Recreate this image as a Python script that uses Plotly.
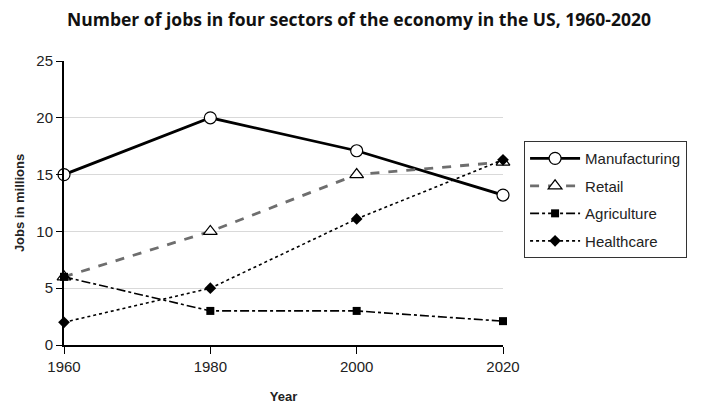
import plotly.graph_objects as go

years = [1960, 1980, 2000, 2020]
manufacturing = [15, 20, 17.1, 13.2]
retail = [6, 10, 15, 16.1]
agriculture = [6, 3, 3, 2.1]
healthcare = [2, 5, 11.1, 16.3]

fig = go.Figure()

series = [
    ("Manufacturing", manufacturing, dict(color="black", width=2.8, dash="solid"),
     dict(symbol="circle", size=12, color="white", line=dict(color="black", width=1.2))),
    ("Retail", retail, dict(color="#6e6e6e", width=2.8, dash="dash"),
     dict(symbol="triangle-up", size=12, color="white", line=dict(color="black", width=1.2))),
    ("Agriculture", agriculture, dict(color="black", width=1.6, dash="dashdot"),
     dict(symbol="square", size=8, color="black")),
    ("Healthcare", healthcare, dict(color="black", width=1.6, dash="dot"),
     dict(symbol="diamond", size=9, color="black")),
]

for name, vals, line, marker in series:
    fig.add_trace(go.Scatter(x=years, y=vals, mode="lines+markers", name=name,
                             legendgroup=name, line=line, marker=marker,
                             cliponaxis=False))

# page body has an 8px margin, so the figure is a bit smaller than the window
fig.update_layout(
    width=702, height=406,
    plot_bgcolor="white", paper_bgcolor="white",
    font=dict(family="Liberation Sans, Arial", size=15, color="#222"),
    title=dict(text="<b>Number of jobs in four sectors of the economy in the US, 1960-2020</b>",
               font=dict(family="Open Sans", size=17.5, color="#111"),
               x=0.5, xanchor="center", y=0.97, yanchor="middle"),
    margin=dict(l=56, r=207, t=53, b=69),
    legend=dict(x=1.048, y=0.718, xanchor="left", yanchor="top",
                bordercolor="#333", borderwidth=1, bgcolor="white",
                font=dict(size=15), tracegroupgap=5, itemwidth=50),
    showlegend=True,
)

fig.update_xaxes(range=[1960, 2020], tickvals=years, ticks="outside", ticklen=7,
                 tickcolor="black", showline=True, linecolor="black", linewidth=2,
                 showgrid=False, zeroline=False, automargin=False,
                 title=dict(text="<b>Year</b>", font=dict(size=13), standoff=18))
fig.update_yaxes(range=[0, 25], tickvals=[0, 5, 10, 15, 20, 25], ticks="outside", ticklen=6,
                 tickcolor="black", showline=True, linecolor="black", linewidth=2,
                 showgrid=True, gridcolor="#d9d9d9", zeroline=False, automargin=False,
                 title=dict(text="<b>Jobs in millions</b>", font=dict(size=13), standoff=9))

fig.write_html("out.html")
